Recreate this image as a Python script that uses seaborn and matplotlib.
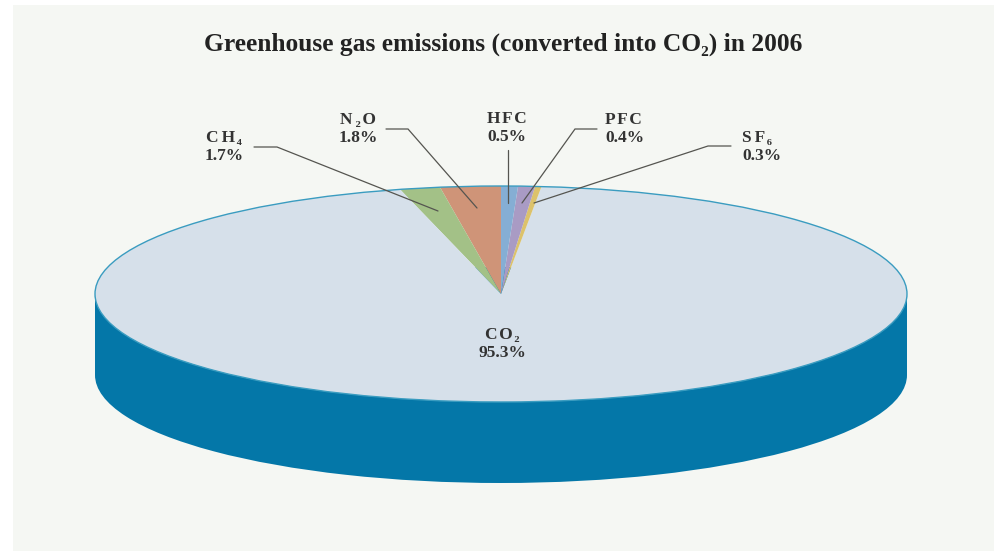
import matplotlib.pyplot as plt
import seaborn as sns
from matplotlib.patches import Circle, Rectangle

# gases in pie order, counter-clockwise from 12 o'clock
gases = ["N\u200a\u200a₂\u200aO", "C\u200a\u200aH\u200a₄", "C\u200aO\u200a₂", "S\u200a\u200aF\u200a₆", "P\u200aF\u200aC", "H\u200aF\u200aC"]
printed_share = [1.8, 1.7, 95.3, 0.3, 0.4, 0.5]
# the slices in the picture are not drawn to the printed numbers, so read them off separately
drawn_share = [2.4, 1.6, 94.41, 0.25, 0.67, 0.67]
slice_colors = ["#cf9478", "#a3c187", "#d6e0ea", "#dcc26b", "#a99bc4", "#85aed4"]

# label layout, pixels of the 994x551 image
label_x = [358, 224, 502, 742, 605, 507]
label_y = [129, 147, 344, 147, 129, 128]
label_ha = ["center", "center", "center", "left", "left", "center"]
leaders = {
    "N2O": ([386, 408, 477], [129, 129, 208]),
    "CH4": ([254, 277, 438], [147, 147, 211]),
    "HFC": ([508, 508], [150, 203]),
    "PFC": ([597, 575, 522], [129, 129, 203]),
    "SF6": ([731, 708, 534], [146, 146, 203]),
}

W, H = 994, 551
PANEL = "#f5f7f3"
SIDE = "#0477a8"
cx, cy, rx, ry, depth = 501, 294, 406, 108, 81

sns.set_theme(style="white")
plt.rcParams["font.family"] = ["Liberation Serif", "DejaVu Serif"]

fig = plt.figure(figsize=(W / 100, H / 100), dpi=100, facecolor="white")
fig.patches.append(Rectangle((13 / W, 0), 1 - 13 / W, 1 - 5 / H, transform=fig.transFigure, facecolor=PANEL, edgecolor="none", zorder=-1))

# pie axes: one data unit is rx wide and ry tall, which squashes the circle into the ellipse
y_top, y_low = 1.1, -2.0
ax = fig.add_axes([(cx - 1.02 * rx) / W, 1 - (cy - y_low * ry) / H, 2.04 * rx / W, (y_top - y_low) * ry / H])
drop = depth / ry
ax.pie([1], colors=[SIDE], center=(0, -drop), radius=1, wedgeprops={"linewidth": 0})
ax.fill_between([-1, 1], -drop, 0, color=SIDE, linewidth=0)
ax.pie(drawn_share, colors=sns.color_palette(slice_colors), startangle=90, counterclock=True, radius=1, wedgeprops={"linewidth": 0})
ax.add_patch(Circle((0, 0), 1, fill=False, edgecolor="#3a9cc0", linewidth=1))
ax.set_aspect("auto")
ax.set_xlim(-1.02, 1.02)
ax.set_ylim(y_low, y_top)
ax.axis("off")

# overlay in image pixels for the text and leader lines
over = fig.add_axes([0, 0, 1, 1])
over.set_xlim(0, W)
over.set_ylim(H, 0)
over.axis("off")
for xs, ys in leaders.values():
    over.plot(xs, ys, color="#555550", linewidth=0.9, solid_joinstyle="miter")
for name, share, x, y, ha in zip(gases, printed_share, label_x, label_y, label_ha):
    over.text(x, y, f"{name}\n{share}%", ha=ha, va="center", multialignment=ha, fontsize=12.5,
              fontweight="bold", color="#333333", linespacing=1.2)
over.text(503, 44, "Greenhouse gas emissions (converted into CO₂) in 2006", ha="center", va="center",
          fontsize=18.4, fontweight="bold", color="#222222")

fig.savefig("out.png", dpi=100)
